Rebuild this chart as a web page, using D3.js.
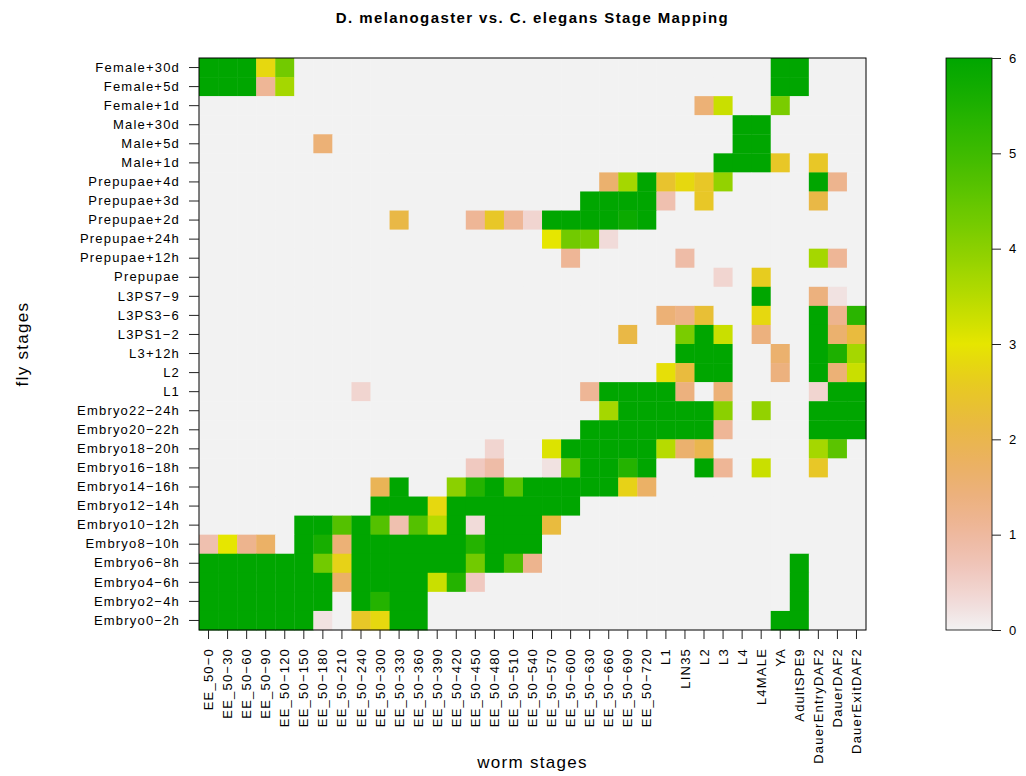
<!DOCTYPE html>
<html>
<head>
<meta charset="utf-8">
<script src="https://cdn.jsdelivr.net/npm/d3@7"></script>
<style>
    body { margin: 0; background: #fff; }
    text { font-family: "Liberation Sans", Arial, Helvetica, sans-serif; }
</style>
</head>
<body>
<div id="chart"></div>
<script>
const flyStages = [
    'Female+30d', 'Female+5d', 'Female+1d', 'Male+30d', 'Male+5d', 'Male+1d',
    'Prepupae+4d', 'Prepupae+3d', 'Prepupae+2d', 'Prepupae+24h', 'Prepupae+12h', 'Prepupae',
    'L3PS7−9', 'L3PS3−6', 'L3PS1−2', 'L3+12h', 'L2', 'L1',
    'Embryo22−24h', 'Embryo20−22h', 'Embryo18−20h', 'Embryo16−18h', 'Embryo14−16h', 'Embryo12−14h',
    'Embryo10−12h', 'Embryo8−10h', 'Embryo6−8h', 'Embryo4−6h', 'Embryo2−4h', 'Embryo0−2h',
];

const wormStages = [
    'EE_50−0', 'EE_50−30', 'EE_50−60', 'EE_50−90', 'EE_50−120', 'EE_50−150',
    'EE_50−180', 'EE_50−210', 'EE_50−240', 'EE_50−300', 'EE_50−330', 'EE_50−360',
    'EE_50−390', 'EE_50−420', 'EE_50−450', 'EE_50−480', 'EE_50−510', 'EE_50−540',
    'EE_50−570', 'EE_50−600', 'EE_50−630', 'EE_50−660', 'EE_50−690', 'EE_50−720',
    'L1', 'LIN35', 'L2', 'L3', 'L4', 'L4MALE', 'YA', 'AdultSPE9',
    'DauerEntryDAF2', 'DauerDAF2', 'DauerExitDAF2',
];

const legendTicks = [0, 1, 2, 3, 4, 5, 6];

// one row per fly stage (same order as flyStages), one value per worm stage
const scores = [
    [6, 6, 6, 2.8, 4.3, 0, 0, 0, 0, 0, 0, 0, 0, 0, 0, 0, 0, 0, 0, 0, 0, 0, 0, 0,
     0, 0, 0, 0, 0, 0, 6, 6, 0, 0, 0],
    [6, 6, 6, 1.1, 3.7, 0, 0, 0, 0, 0, 0, 0, 0, 0, 0, 0, 0, 0, 0, 0, 0, 0, 0, 0,
     0, 0, 0, 0, 0, 0, 6, 6, 0, 0, 0],
    [0, 0, 0, 0, 0, 0, 0, 0, 0, 0, 0, 0, 0, 0, 0, 0, 0, 0, 0, 0, 0, 0, 0, 0,
     0, 0, 1.5, 3.3, 0, 0, 4.2, 0, 0, 0, 0],
    [0, 0, 0, 0, 0, 0, 0, 0, 0, 0, 0, 0, 0, 0, 0, 0, 0, 0, 0, 0, 0, 0, 0, 0,
     0, 0, 0, 0, 6, 6, 0, 0, 0, 0, 0],
    [0, 0, 0, 0, 0, 0, 1.5, 0, 0, 0, 0, 0, 0, 0, 0, 0, 0, 0, 0, 0, 0, 0, 0, 0,
     0, 0, 0, 0, 6, 6, 0, 0, 0, 0, 0],
    [0, 0, 0, 0, 0, 0, 0, 0, 0, 0, 0, 0, 0, 0, 0, 0, 0, 0, 0, 0, 0, 0, 0, 0,
     0, 0, 0, 6, 6, 6, 2.5, 0, 2.5, 0, 0],
    [0, 0, 0, 0, 0, 0, 0, 0, 0, 0, 0, 0, 0, 0, 0, 0, 0, 0, 0, 0, 0, 1.6, 3.7, 6,
     2.4, 2.8, 2.5, 3.9, 0, 0, 0, 0, 6, 1.2, 0],
    [0, 0, 0, 0, 0, 0, 0, 0, 0, 0, 0, 0, 0, 0, 0, 0, 0, 0, 0, 0, 6, 6, 6, 6,
     0.8, 0, 2.5, 0, 0, 0, 0, 0, 2.1, 0, 0],
    [0, 0, 0, 0, 0, 0, 0, 0, 0, 0, 2.1, 0, 0, 0, 1.1, 2.5, 1.1, 0.4, 6, 6, 6, 6, 5.8, 6,
     0, 0, 0, 0, 0, 0, 0, 0, 0, 0, 0],
    [0, 0, 0, 0, 0, 0, 0, 0, 0, 0, 0, 0, 0, 0, 0, 0, 0, 0, 3.0, 4.3, 4.2, 0.3, 0, 0,
     0, 0, 0, 0, 0, 0, 0, 0, 0, 0, 0],
    [0, 0, 0, 0, 0, 0, 0, 0, 0, 0, 0, 0, 0, 0, 0, 0, 0, 0, 0, 1.1, 0, 0, 0, 0,
     0, 0.9, 0, 0, 0, 0, 0, 0, 3.7, 1.1, 0],
    [0, 0, 0, 0, 0, 0, 0, 0, 0, 0, 0, 0, 0, 0, 0, 0, 0, 0, 0, 0, 0, 0, 0, 0,
     0, 0, 0, 0.4, 0, 2.6, 0, 0, 0, 0, 0],
    [0, 0, 0, 0, 0, 0, 0, 0, 0, 0, 0, 0, 0, 0, 0, 0, 0, 0, 0, 0, 0, 0, 0, 0,
     0, 0, 0, 0, 0, 6, 0, 0, 1.4, 0.2, 0],
    [0, 0, 0, 0, 0, 0, 0, 0, 0, 0, 0, 0, 0, 0, 0, 0, 0, 0, 0, 0, 0, 0, 0, 0,
     1.5, 1.3, 2.3, 0, 0, 2.8, 0, 0, 6, 1.2, 5.3],
    [0, 0, 0, 0, 0, 0, 0, 0, 0, 0, 0, 0, 0, 0, 0, 0, 0, 0, 0, 0, 0, 0, 2.1, 0,
     0, 4.2, 6, 3.3, 0, 1.4, 0, 0, 6, 1.6, 2.2],
    [0, 0, 0, 0, 0, 0, 0, 0, 0, 0, 0, 0, 0, 0, 0, 0, 0, 0, 0, 0, 0, 0, 0, 0,
     0, 6, 6, 6, 0, 0, 1.6, 0, 6, 5.5, 3.7],
    [0, 0, 0, 0, 0, 0, 0, 0, 0, 0, 0, 0, 0, 0, 0, 0, 0, 0, 0, 0, 0, 0, 0, 0,
     2.9, 2.2, 6, 6, 0, 0, 1.4, 0, 6, 1.5, 3.3],
    [0, 0, 0, 0, 0, 0, 0, 0, 0.4, 0, 0, 0, 0, 0, 0, 0, 0, 0, 0, 0, 1.1, 6, 6, 6,
     6, 1.4, 0, 1.5, 0, 0, 0, 0, 0.4, 6, 6],
    [0, 0, 0, 0, 0, 0, 0, 0, 0, 0, 0, 0, 0, 0, 0, 0, 0, 0, 0, 0, 0, 3.7, 6, 6,
     6, 6, 6, 4.0, 0, 3.9, 0, 0, 6, 6, 6],
    [0, 0, 0, 0, 0, 0, 0, 0, 0, 0, 0, 0, 0, 0, 0, 0, 0, 0, 0, 0, 6, 6, 6, 6,
     6, 6, 6, 1.1, 0, 0, 0, 0, 6, 6, 6],
    [0, 0, 0, 0, 0, 0, 0, 0, 0, 0, 0, 0, 0, 0, 0, 0.4, 0, 0, 3.1, 6, 6, 6, 6, 6,
     3.5, 1.6, 2.0, 0, 0, 0, 0, 0, 3.7, 4.6, 0],
    [0, 0, 0, 0, 0, 0, 0, 0, 0, 0, 0, 0, 0, 0, 0.6, 0.9, 0, 0, 0.2, 4.3, 6, 6, 5.4, 6,
     0, 0, 6, 1.1, 0, 3.3, 0, 0, 2.5, 0, 0],
    [0, 0, 0, 0, 0, 0, 0, 0, 0, 1.9, 6, 0, 0, 4.0, 5.4, 6, 4.6, 6, 6, 6, 6, 6, 2.7, 1.7,
     0, 0, 0, 0, 0, 0, 0, 0, 0, 0, 0],
    [0, 0, 0, 0, 0, 0, 0, 0, 0, 6, 6, 6, 2.8, 6, 6, 6, 6, 6, 6, 6, 0, 0, 0, 0,
     0, 0, 0, 0, 0, 0, 0, 0, 0, 0, 0],
    [0, 0, 0, 0, 0, 6, 6, 4.7, 6, 4.7, 0.8, 4.7, 3.5, 6, 0.3, 6, 6, 6, 2.2, 0, 0, 0, 0, 0,
     0, 0, 0, 0, 0, 0, 0, 0, 0, 0, 0],
    [0.8, 3.0, 1.2, 1.7, 0, 6, 5.6, 1.5, 6, 6, 6, 6, 6, 6, 5.4, 6, 6, 6, 0, 0, 0, 0, 0, 0,
     0, 0, 0, 0, 0, 0, 0, 0, 0, 0, 0],
    [6, 6, 6, 6, 6, 6, 4.3, 2.7, 6, 6, 6, 6, 6, 6, 4.3, 6, 4.8, 1.2, 0, 0, 0, 0, 0, 0,
     0, 0, 0, 0, 0, 0, 0, 6, 0, 0, 0],
    [6, 6, 6, 6, 6, 6, 6, 1.7, 6, 6, 6, 6, 3.3, 5.4, 0.6, 0, 0, 0, 0, 0, 0, 0, 0, 0,
     0, 0, 0, 0, 0, 0, 0, 6, 0, 0, 0],
    [6, 6, 6, 6, 6, 6, 6, 0, 6, 5.4, 6, 6, 0, 0, 0, 0, 0, 0, 0, 0, 0, 0, 0, 0,
     0, 0, 0, 0, 0, 0, 0, 6, 0, 0, 0],
    [6, 6, 6, 6, 6, 6, 0.2, 0, 2.5, 2.8, 6, 6, 0, 0, 0, 0, 0, 0, 0, 0, 0, 0, 0, 0,
     0, 0, 0, 0, 0, 0, 6, 6, 0, 0, 0],
];

// R terrain.colors run backwards: 0 grey, 3 yellow, 6 green (hsv ramps)
function hsvToRgb(h, s, v) {
    const i = Math.floor(h * 6) % 6;
    const f = h * 6 - Math.floor(h * 6);
    const p = v * (1 - s), q = v * (1 - f * s), t = v * (1 - (1 - f) * s);
    const rgb = [[v, t, p], [q, v, p], [p, v, t], [p, q, v], [t, p, v], [v, p, q]][i];
    return d3.rgb(rgb[0] * 255, rgb[1] * 255, rgb[2] * 255);
}

function terrain(u) {
    const val = u * 6;
    if (val >= 3) {
        const f = (6 - val) / 3;
        return hsvToRgb(1 / 3 - f / 6, 1, 0.65 + 0.25 * f);
    }
    const f = (3 - val) / 3;
    return hsvToRgb((1 / 6) * (1 - f), 1 - f, 0.9 + 0.05 * f);
}

const width = 1026, height = 776;
const plot = {left: 199, right: 866, top: 58, bottom: 630};
const bar = {left: 946, right: 992};
const font = '"Liberation Sans", Arial, sans-serif';

const svg = d3.select('#chart')
    .append('svg')
    .attr('width', width)
    .attr('height', height);

const x = d3.scaleBand().domain(wormStages).range([plot.left, plot.right]);
const y = d3.scaleBand().domain(flyStages).range([plot.top, plot.bottom]);
const color = d3.scaleSequential(terrain).domain([0, 6]);

const cells = [];
flyStages.forEach((fly, i) => {
    wormStages.forEach((worm, j) => {
        cells.push({fly, worm, value: scores[i][j]});
    });
});

svg.append('g')
    .selectAll('rect')
    .data(cells)
    .join('rect')
    .attr('x', (d) => x(d.worm))
    .attr('y', (d) => y(d.fly))
    .attr('width', x.bandwidth() + 0.4)
    .attr('height', y.bandwidth() + 0.4)
    .attr('fill', (d) => color(d.value));

svg.append('rect')
    .attr('x', plot.left)
    .attr('y', plot.top)
    .attr('width', plot.right - plot.left)
    .attr('height', plot.bottom - plot.top)
    .attr('fill', 'none')
    .attr('stroke', '#000');

svg.append('g')
    .attr('transform', `translate(0,${plot.bottom})`)
    .call(d3.axisBottom(x).tickSize(9))
    .call((g) => g.select('.domain').remove())
    .call((g) => g.selectAll('line').attr('stroke', '#222'))
    .call((g) => g.selectAll('text')
        .attr('transform', 'rotate(-90)')
        .attr('x', -18)
        .attr('y', 0)
        .attr('dy', '0.35em')
        .attr('text-anchor', 'end')
        .attr('font-size', 13)
        .attr('letter-spacing', 1.2)
        .attr('font-family', font)
        .attr('fill', '#000'));

svg.append('g')
    .attr('transform', `translate(${plot.left},0)`)
    .call(d3.axisLeft(y).tickSize(10).tickPadding(9))
    .call((g) => g.select('.domain').remove())
    .call((g) => g.selectAll('line').attr('stroke', '#222'))
    .call((g) => g.selectAll('text')
        .attr('font-size', 13)
        .attr('letter-spacing', 1.2)
        .attr('font-family', font)
        .attr('fill', '#000'));

// colour bar
const legendY = d3.scaleLinear().domain([0, 6]).range([plot.bottom, plot.top]);
const grad = svg.append('defs')
    .append('linearGradient')
    .attr('id', 'terrain-grad')
    .attr('x1', 0).attr('y1', 1)
    .attr('x2', 0).attr('y2', 0);
grad.selectAll('stop')
    .data(d3.range(0, 61))
    .join('stop')
    .attr('offset', (d) => d / 60)
    .attr('stop-color', (d) => color(d / 10));

svg.append('rect')
    .attr('x', bar.left)
    .attr('y', plot.top)
    .attr('width', bar.right - bar.left)
    .attr('height', plot.bottom - plot.top)
    .attr('fill', 'url(#terrain-grad)')
    .attr('stroke', '#000')
    .attr('stroke-width', 0.8);

svg.append('g')
    .attr('transform', `translate(${bar.right},0)`)
    .call(d3.axisRight(legendY).tickValues(legendTicks).tickSize(9).tickPadding(8).tickFormat(d3.format('d')))
    .call((g) => g.select('.domain').remove())
    .call((g) => g.selectAll('line').attr('stroke', '#222'))
    .call((g) => g.selectAll('text')
        .attr('font-size', 13)
        .attr('font-family', font)
        .attr('fill', '#000'));

svg.append('text')
    .attr('x', (plot.left + plot.right) / 2)
    .attr('y', 23)
    .attr('text-anchor', 'middle')
    .attr('font-size', 15)
    .attr('font-weight', 'bold')
    .attr('letter-spacing', 1.4)
    .text('D. melanogaster vs. C. elegans Stage Mapping');

svg.append('text')
    .attr('x', (plot.left + plot.right) / 2)
    .attr('y', 768)
    .attr('text-anchor', 'middle')
    .attr('font-size', 17)
    .attr('letter-spacing', 1.3)
    .text('worm stages');

svg.append('text')
    .attr('transform', `translate(28,${(plot.top + plot.bottom) / 2}) rotate(-90)`)
    .attr('text-anchor', 'middle')
    .attr('font-size', 17)
    .attr('letter-spacing', 1.3)
    .text('fly stages');
</script>
</body>
</html>
